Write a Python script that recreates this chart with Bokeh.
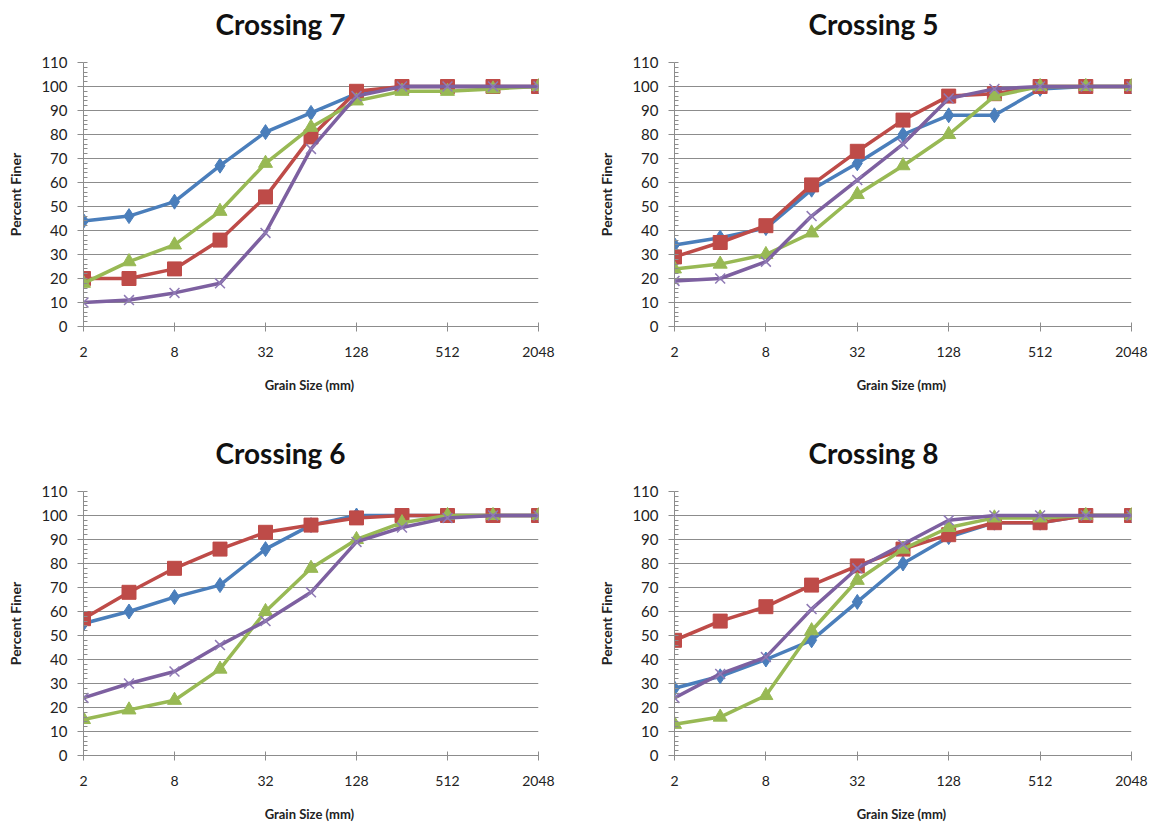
from bokeh.plotting import figure
from bokeh.layouts import column, row
from bokeh.models import FixedTicker, SingleIntervalTicker, BasicTickFormatter, Range1d, Title
from bokeh.embed import file_html
from bokeh.resources import INLINE

# ---------------- data ----------------
grain_sizes = [2, 4, 8, 16, 32, 64, 128, 256, 512, 1024, 2048]
x_tick_values = [2, 8, 32, 128, 512, 2048]

titles = ["Crossing 7", "Crossing 5", "Crossing 6", "Crossing 8"]

c7_s1 = [44, 46, 52, 67, 81, 89, 97, 100, 100, 100, 100]
c7_s2 = [20, 20, 24, 36, 54, 79, 98, 100, 100, 100, 100]
c7_s3 = [18, 27, 34, 48, 68, 83, 94, 98, 98, 99, 100]
c7_s4 = [10, 11, 14, 18, 39, 74, 96, 100, 100, 100, 100]

c5_s1 = [34, 37, 41, 57, 68, 80, 88, 88, 99, 100, 100]
c5_s2 = [29, 35, 42, 59, 73, 86, 96, 97, 100, 100, 100]
c5_s3 = [24, 26, 30, 39, 55, 67, 80, 96, 100, 100, 100]
c5_s4 = [19, 20, 27, 46, 61, 76, 95, 99, 100, 100, 100]

c6_s1 = [55, 60, 66, 71, 86, 96, 100, 100, 100, 100, 100]
c6_s2 = [57, 68, 78, 86, 93, 96, 99, 100, 100, 100, 100]
c6_s3 = [15, 19, 23, 36, 60, 78, 90, 97, 100, 100, 100]
c6_s4 = [24, 30, 35, 46, 56, 68, 89, 95, 99, 100, 100]

c8_s1 = [28, 33, 40, 48, 64, 80, 91, 97, 97, 100, 100]
c8_s2 = [48, 56, 62, 71, 79, 86, 92, 97, 97, 100, 100]
c8_s3 = [13, 16, 25, 52, 73, 86, 95, 99, 99, 100, 100]
c8_s4 = [24, 34, 41, 61, 78, 88, 98, 100, 100, 100, 100]

series_colors = ["#4A7EBB", "#BE4B48", "#98B954", "#7D60A0"]
series_markers = ["diamond", "square", "triangle", "x"]
series_sizes = [15, 14, 14, 14]

FONT = "Lato"
GRID = "#8c8c8c"


def make_chart(title, series, width, height, bl, br, bt, bb, title_offset):
    p = figure(width=width, height=height, x_axis_type="log",
               x_range=Range1d(2, 2048), y_range=Range1d(0, 110),
               output_backend="svg", toolbar_location=None, title=None,
               min_border_left=bl, min_border_right=br,
               min_border_top=bt, min_border_bottom=bb)
    p.outline_line_color = None
    p.background_fill_color = "white"
    p.border_fill_color = "white"

    # blank spacer between chart title and plot area
    p.add_layout(Title(text=" ", text_font=FONT, text_font_size="10px",
                       standoff=4), "above")
    p.add_layout(Title(text=title, text_font=FONT, text_font_size="28px",
                       text_font_style="bold", text_color="#111111",
                       align="left", offset=title_offset, standoff=8), "above")

    p.xgrid.visible = False
    p.ygrid.grid_line_color = GRID
    p.ygrid.grid_line_width = 1

    xa = p.xaxis[0]
    xa.ticker = FixedTicker(ticks=x_tick_values, minor_ticks=[])
    xa.formatter = BasicTickFormatter(use_scientific=False)
    xa.axis_line_color = GRID
    xa.major_tick_line_color = GRID
    xa.major_tick_in = 4
    xa.major_tick_out = 5
    xa.minor_tick_line_color = None
    xa.major_label_text_font = FONT
    xa.major_label_text_font_size = "14px"
    xa.major_label_text_color = "#222222"
    xa.major_label_standoff = 15
    xa.axis_label = "Grain Size  (mm)"
    xa.axis_label_text_font = FONT
    xa.axis_label_text_font_size = "13px"
    xa.axis_label_text_font_style = "bold"
    xa.axis_label_text_color = "#222222"
    xa.axis_label_standoff = 17

    ya = p.yaxis[0]
    ya.ticker = SingleIntervalTicker(interval=10, num_minor_ticks=5)
    ya.axis_line_color = GRID
    ya.major_tick_line_color = GRID
    ya.minor_tick_line_color = GRID
    ya.major_tick_in = 0
    ya.major_tick_out = 6
    ya.minor_tick_in = 4
    ya.minor_tick_out = 0
    ya.major_label_text_font = FONT
    ya.major_label_text_font_size = "15px"
    ya.major_label_text_color = "#222222"
    ya.major_label_standoff = 10
    ya.axis_label = "Percent Finer"
    ya.axis_label_text_font = FONT
    ya.axis_label_text_font_size = "14px"
    ya.axis_label_text_font_style = "bold"
    ya.axis_label_text_color = "#222222"
    ya.axis_label_standoff = 14

    for vals, c, m, s in zip(series, series_colors, series_markers, series_sizes):
        p.line(grain_sizes, vals, line_width=3.5, line_color=c)
        if m == "x":
            p.scatter(grain_sizes, vals, marker=m, size=s, line_color="#8f7ab5",
                      line_width=1.5)
        else:
            p.scatter(grain_sizes, vals, marker=m, size=s, fill_color=c,
                      line_color=c, line_width=1)
    return p


p7 = make_chart(titles[0], [c7_s1, c7_s2, c7_s3, c7_s4], 582, 428, 83, 44, 62, 102, 132)
p5 = make_chart(titles[1], [c5_s1, c5_s2, c5_s3, c5_s4], 570, 428, 92, 21, 62, 102, 134)
p6 = make_chart(titles[2], [c6_s1, c6_s2, c6_s3, c6_s4], 582, 396, 83, 44, 63, 69, 132)
p8 = make_chart(titles[3], [c8_s1, c8_s2, c8_s3, c8_s4], 570, 396, 92, 21, 63, 69, 134)

layout = column(row(p7, p5), row(p6, p8))

open("out.html", "w").write(file_html(layout, INLINE))
